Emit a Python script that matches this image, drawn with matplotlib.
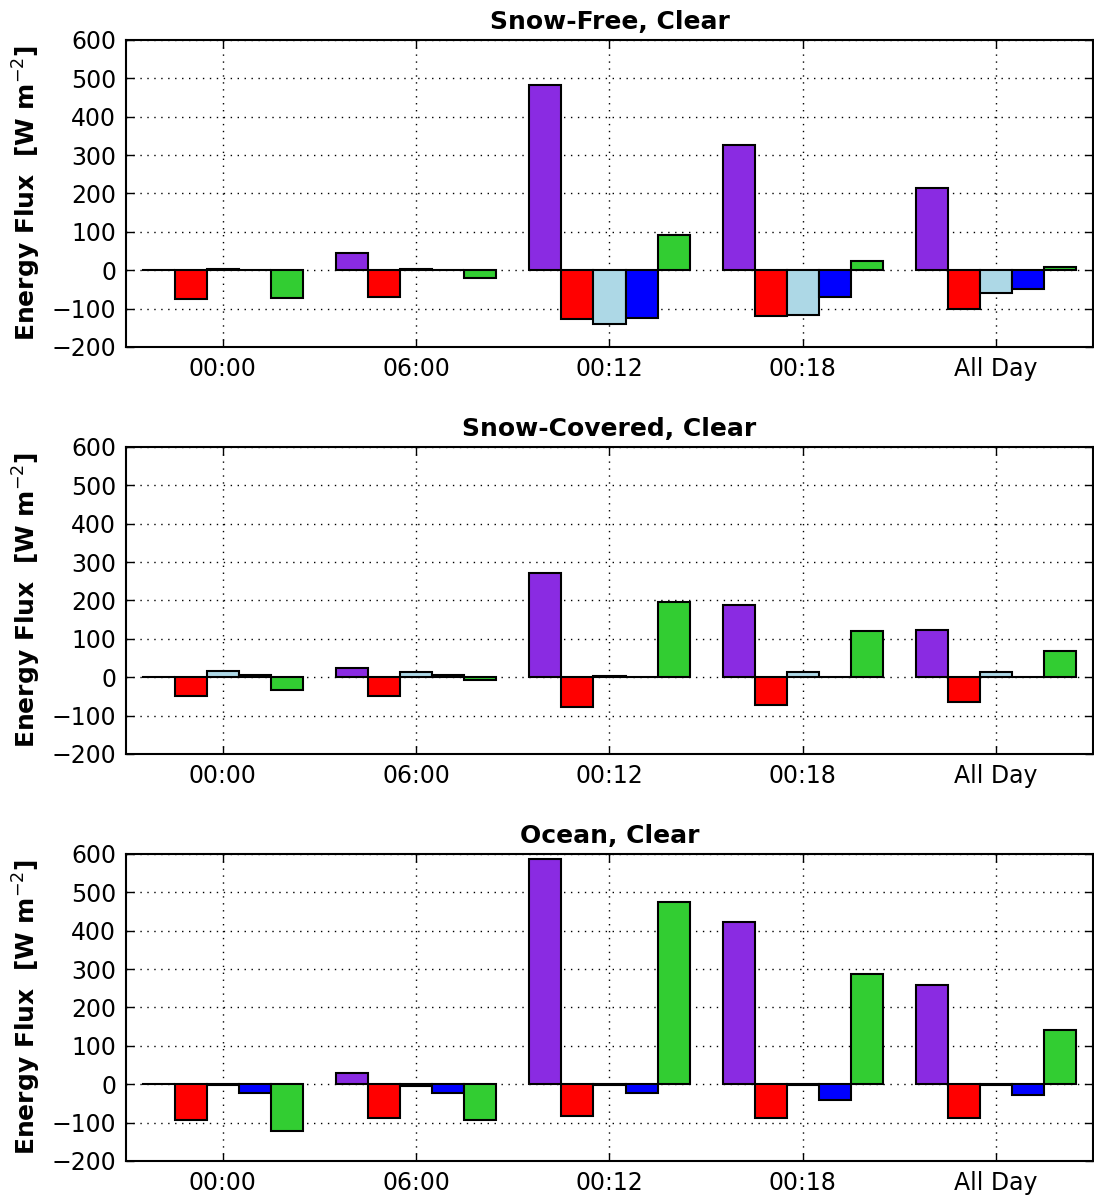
import matplotlib
matplotlib.use('Agg')
import matplotlib.pyplot as plt
import numpy as np

# Categorias de horário e cores dos termos do balanço de energia
periodos = ['00:00', '06:00', '00:12', '00:18', 'All Day']
cores = ['#8A2BE2', '#FF0000', '#ADD8E6', '#0000FF', '#32CD32']

titulos = ['Snow-Free, Clear', 'Snow-Covered, Clear', 'Ocean, Clear']

# Valores [W m-2] por termo (linhas) e período (colunas)
sem_neve = [
    [0, 45, 483, 327, 213],
    [-76, -69, -127, -119, -100],
    [4, 3, -141, -116, -59],
    [0, 0, -124, -69, -49],
    [-73, -21, 91, 24, 8],
]
com_neve = [
    [0, 25, 271, 188, 124],
    [-48, -48, -77, -72, -65],
    [17, 14, 4, 13, 13],
    [5, 5, 0, 0, 0],
    [-34, -8, 196, 120, 68],
]
oceano = [
    [0, 30, 588, 422, 258],
    [-92, -89, -84, -89, -89],
    [-2, -5, -3, -2, -2],
    [-24, -24, -24, -40, -28],
    [-121, -92, 475, 288, 140],
]
paineis = [sem_neve, com_neve, oceano]

fig = plt.figure(figsize=(10.94, 11.96), dpi=100)
fundos = [0.7099, 0.3696, 0.0293]
largura = 0.166
x = np.arange(len(periodos))

for fundo, titulo, dados in zip(fundos, titulos, paineis):
    ax = fig.add_axes([0.1152, fundo, 0.8838, 0.2567])
    for k, (serie, cor) in enumerate(zip(dados, cores)):
        ax.bar(x - 0.415 + k * largura, serie, width=largura, align='edge',
               color=cor, edgecolor='black', linewidth=1.5, zorder=3)
    ax.set_xlim(-0.5, 4.5)
    ax.set_ylim(-200, 600)
    ax.set_yticks(range(-200, 601, 100))
    ax.set_xticks(x)
    ax.set_xticklabels(periodos)
    ax.grid(True, color='black', linestyle=(0, (1, 4)), linewidth=1.0, zorder=0)
    ax.tick_params(direction='in', labelsize=17, length=6, width=1,
                   top=True, right=True, pad=7)
    for s in ax.spines.values():
        s.set_linewidth(1.5)
    ax.set_title(titulo, fontsize=18, fontweight='bold', pad=8)
    ax.set_ylabel(r'Energy Flux  [W m$^{-2}$]', fontsize=18,
                  fontweight='bold', labelpad=6)

plt.savefig('out.png', dpi=100, facecolor='white')
plt.close()
